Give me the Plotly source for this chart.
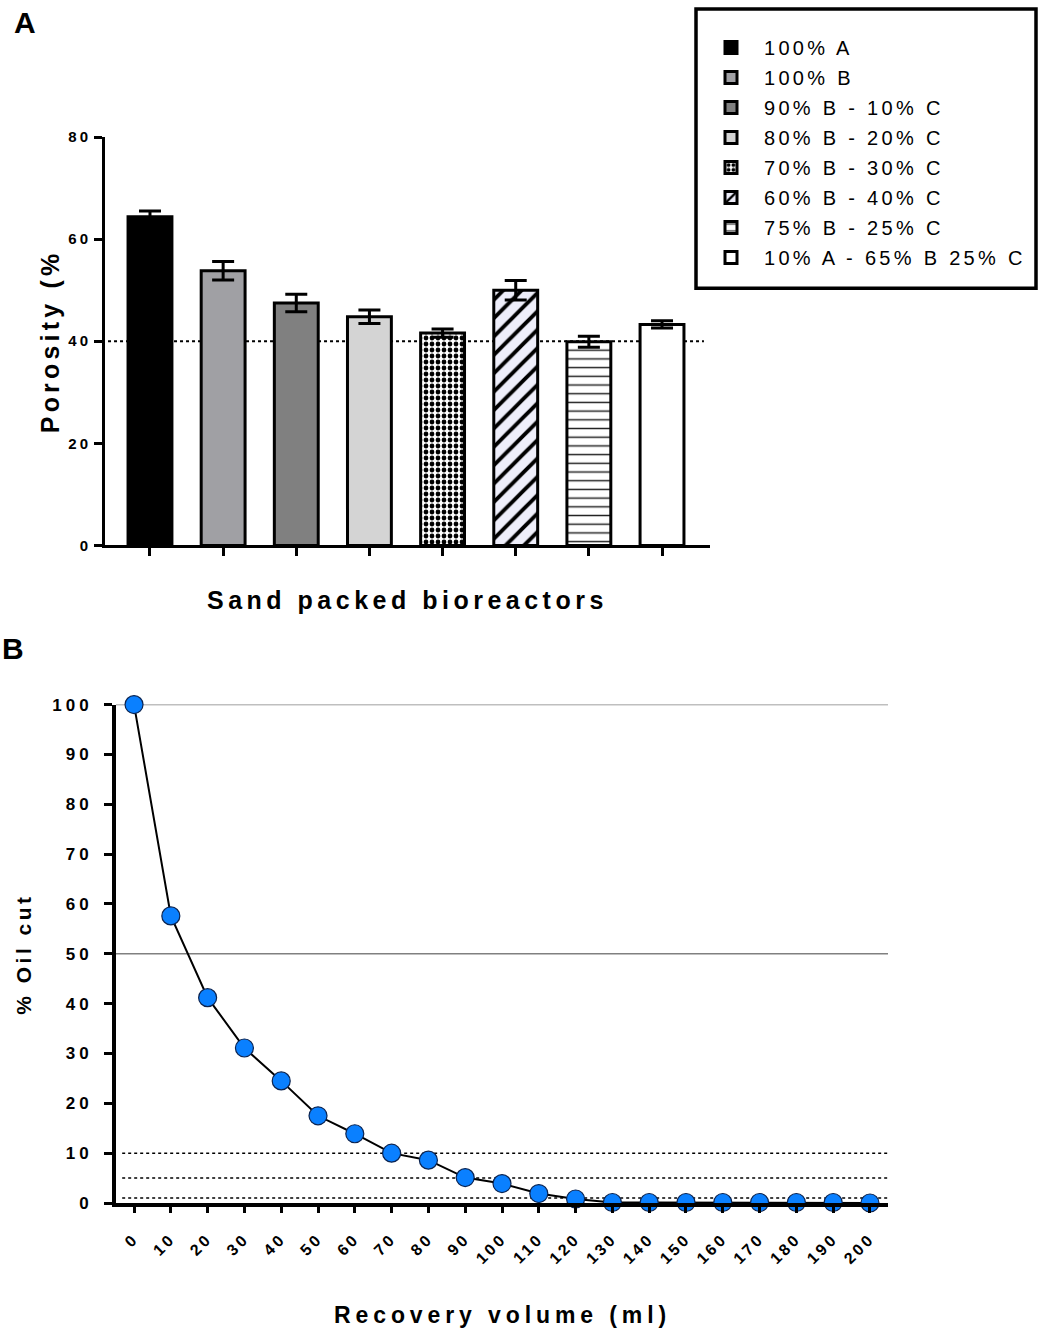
import plotly.graph_objects as go

# ---------------- data ----------------
categories = ["100% A", "100% B", "90% B - 10% C", "80% B - 20% C",
              "70% B - 30% C", "60% B - 40% C", "75% B - 25% C",
              "10% A - 65% B 25% C"]
porosity = [64.4, 53.8, 47.5, 44.8, 41.6, 50.0, 39.9, 43.3]
porosity_err = [1.1, 1.8, 1.7, 1.3, 0.8, 1.9, 1.1, 0.7]
porosity_ref = 40

recovery = [0, 10, 20, 30, 40, 50, 60, 70, 80, 90, 100,
            110, 120, 130, 140, 150, 160, 170, 180, 190, 200]
oil_cut = [100, 57.6, 41.2, 31.1, 24.5, 17.5, 13.9, 10.0, 8.6, 5.1, 3.9,
           1.9, 0.8, 0.1, 0.1, 0.1, 0.1, 0.1, 0.1, 0.1, 0.0]
oil_grid = [50, 100]
oil_dotted = [10, 5, 1]
a_yticks = [0, 20, 40, 60, 80]
b_yticks = [0, 10, 20, 30, 40, 50, 60, 70, 80, 90, 100]

# ---------------- styles ----------------
FONT = "Arial, Liberation Sans, sans-serif"
W, H = 1039, 1345


def sp(text, px):
    return f'<span style="letter-spacing:{px}px">{text}</span>'


def py(px):
    """target pixel row from the top -> paper y (compensates the capture offset)"""
    d = (px - 9.05) / 0.985
    return 1 - d / H


bar_styles = [
    dict(color="#000000"),
    dict(color="#A0A0A4"),
    dict(color="#808080"),
    dict(color="#D4D4D4"),
    dict(color="#FFFFFF", pattern=dict(shape=".", fgcolor="black", bgcolor="white",
                                        size=6, solidity=0.5, fillmode="replace")),
    dict(color="#EEEEFA", pattern=dict(shape="/", fgcolor="black", bgcolor="#EEEEFA",
                                        size=13, solidity=0.3, fillmode="replace")),
    dict(color="#FFFFFF", pattern=dict(shape="-", fgcolor="#222222", bgcolor="white",
                                        size=8.7, solidity=0.17, fillmode="replace")),
    dict(color="#FFFFFF"),
]

fig = go.Figure()

for i, cat in enumerate(categories):
    st = bar_styles[i]
    marker = dict(color=st["color"], line=dict(color="black", width=3))
    if "pattern" in st:
        marker["pattern"] = st["pattern"]
    fig.add_trace(go.Bar(
        x=[cat], y=[porosity[i]], name=sp(cat, 3.3), legendgroup=f"g{i}",
        marker=marker, width=0.6,
        error_y=dict(type="data", array=[porosity_err[i]], color="black",
                     thickness=3, width=11),
        xaxis="x", yaxis="y", cliponaxis=False,
    ))

fig.add_trace(go.Scatter(
    x=recovery, y=oil_cut, mode="lines+markers", showlegend=False,
    line=dict(color="black", width=2),
    marker=dict(size=18, color="#0A80FF", line=dict(color="#0B2350", width=1.2)),
    xaxis="x2", yaxis="y2", cliponaxis=False,
))

# ---------------- layout ----------------
dA_x = [105 / W, 710 / W]
dA_y = [py(545), py(137)]
dB_x = [116 / W, 888 / W]
dB_y = [py(1202), py(704)]

fig.update_layout(
    width=W, height=H, margin=dict(l=0, r=0, t=0, b=0),
    paper_bgcolor="white", plot_bgcolor="white",
    barmode="overlay",
    font=dict(family=FONT, color="black"),
    xaxis=dict(domain=dA_x, range=[-0.615, 7.656], type="category",
               showline=True, linecolor="black", linewidth=3,
               ticks="outside", ticklen=8, tickwidth=3, tickcolor="black",
               showticklabels=False, showgrid=False, zeroline=False,
               fixedrange=True),
    yaxis=dict(domain=dA_y, range=[0, 80], anchor="x",
               tickvals=a_yticks, ticktext=[sp(str(v), 3) for v in a_yticks],
               tickfont=dict(size=15, weight="bold", family=FONT),
               showline=True, linecolor="black", linewidth=3,
               ticks="outside", ticklen=8, tickwidth=3, tickcolor="black",
               showgrid=False, zeroline=False),
    xaxis2=dict(domain=dB_x, range=[-4.9, 204.9], anchor="y2",
                tickvals=recovery, ticktext=[sp(str(v), 3) for v in recovery],
                tickangle=-45, tickfont=dict(size=16, weight="bold", family=FONT),
                ticklabelstandoff=10,
                showline=True, linecolor="black", linewidth=4,
                ticks="outside", ticklen=6, tickwidth=3, tickcolor="black",
                showgrid=False, zeroline=False),
    yaxis2=dict(domain=dB_y, range=[0, 100], anchor="x2",
                tickvals=b_yticks, ticktext=[sp(str(v), 4) for v in b_yticks],
                tickfont=dict(size=17, weight="bold", family=FONT),
                ticklabelstandoff=8,
                showline=True, linecolor="black", linewidth=4,
                ticks="outside", ticklen=8, tickwidth=3, tickcolor="black",
                showgrid=False, zeroline=False),
    legend=dict(x=698 / W, y=py(28), xanchor="left", yanchor="top",
                borderwidth=0, bgcolor="rgba(0,0,0,0)",
                font=dict(size=20, family=FONT, color="black"),
                tracegroupgap=1, itemwidth=56),
    showlegend=True,
)

shapes = [
    # legend frame
    dict(type="rect", xref="paper", yref="paper", x0=696 / W, x1=1036 / W,
         y0=py(288), y1=py(9), line=dict(color="black", width=3.5),
         fillcolor="rgba(0,0,0,0)", layer="above"),
    dict(type="line", xref="x domain", yref="y", x0=0.005, x1=0.99,
         y0=porosity_ref, y1=porosity_ref,
         line=dict(color="black", width=2, dash="dot"), layer="below"),
]
for v in oil_grid:
    shapes.append(dict(type="line", xref="x2 domain", yref="y2", x0=0, x1=1,
                       y0=v, y1=v, line=dict(color="#808080", width=1.5),
                       layer="below"))
for v in oil_dotted:
    shapes.append(dict(type="line", xref="x2 domain", yref="y2", x0=0.008, x1=1,
                       y0=v, y1=v, line=dict(color="black", width=1.5, dash="dot"),
                       layer="below"))
fig.update_layout(shapes=shapes)

ann = [
    dict(text="<b>A</b>", x=25 / W, y=py(23), font=dict(size=30)),
    dict(text="<b>B</b>", x=0, y=py(648), font=dict(size=30), xanchor="left"),
    dict(text="<b>" + sp("Porosity (%", 4.2) + "</b>", x=50 / W, y=py(341),
         textangle=-90, font=dict(size=25)),
    dict(text="<b>" + sp("Sand packed bioreactors", 4.5) + "</b>", x=407 / W,
         y=py(600), font=dict(size=25)),
    dict(text="<b>" + sp("% Oil cut", 3.5) + "</b>", x=24 / W, y=py(954),
         textangle=-90, font=dict(size=21)),
    dict(text="<b>" + sp("Recovery volume (ml)", 4.9) + "</b>", x=502 / W,
         y=py(1314), font=dict(size=23)),
]
for a in ann:
    a.setdefault("xanchor", "center")
    a.update(xref="paper", yref="paper", showarrow=False, yanchor="middle")
    a["font"].update(family=FONT, color="black")
fig.update_layout(annotations=ann)

post = (
    "var de=document.documentElement, b=document.body;"
    "de.style.margin='0';de.style.padding='0';"
    "b.style.margin='0';b.style.padding='0';"
)

fig.write_html("out.html", config={"displayModeBar": False}, post_script=post)
